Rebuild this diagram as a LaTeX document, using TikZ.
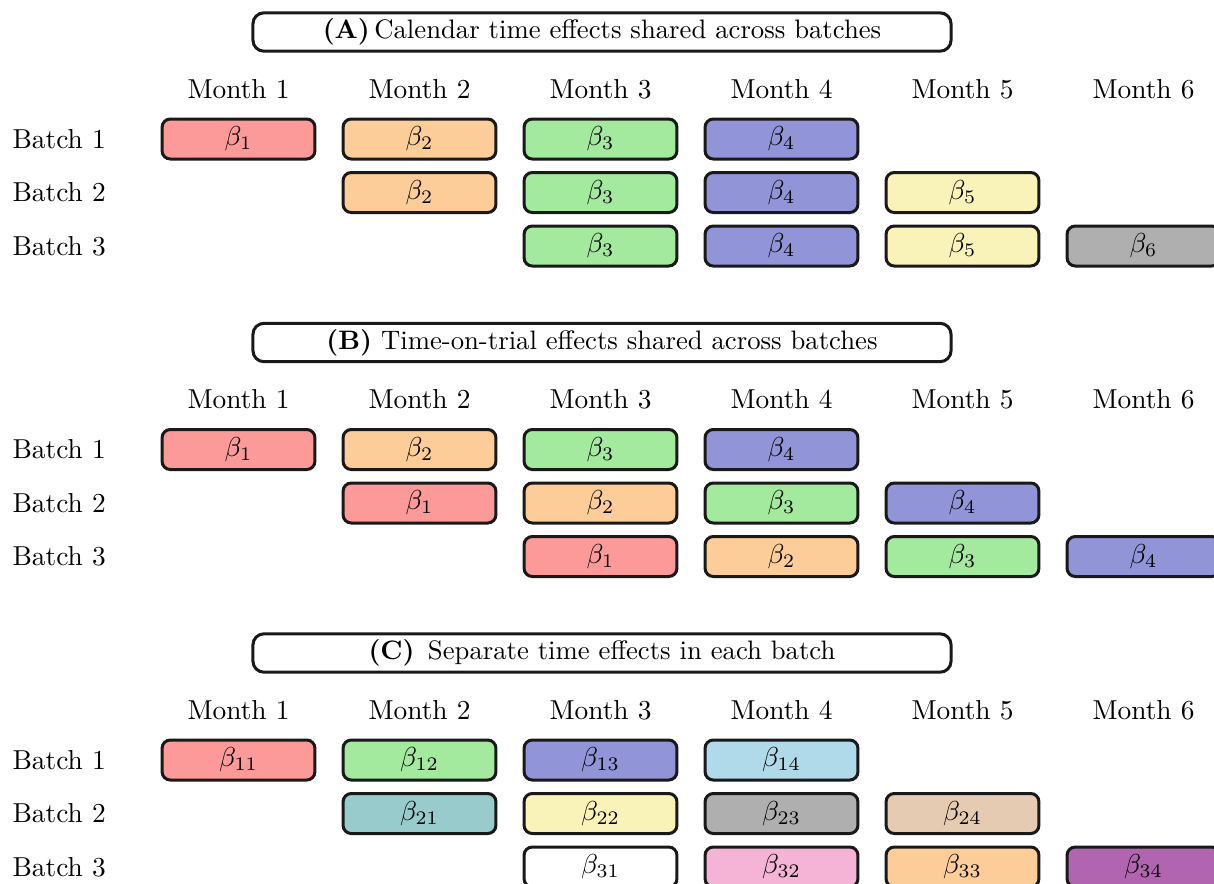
\documentclass[tikz,border=0pt]{standalone}
\definecolor{cR}{RGB}{252,153,153}
\definecolor{cO}{RGB}{252,205,153}
\definecolor{cG}{RGB}{163,233,158}
\definecolor{cB}{RGB}{145,148,214}
\definecolor{cY}{RGB}{250,243,185}
\definecolor{cK}{RGB}{175,175,175}
\definecolor{cT}{RGB}{152,204,204}
\definecolor{cL}{RGB}{176,218,234}
\definecolor{cN}{RGB}{229,203,178}
\definecolor{cP}{RGB}{245,180,213}
\definecolor{cV}{RGB}{177,101,177}
\definecolor{cW}{RGB}{255,255,255}
\begin{document}
\begin{tikzpicture}[x=0.365pt,y=-0.365pt,
  betabox/.style={draw=black!90, line width=1.1pt, rounded corners=3pt,
    minimum width=55.8pt, minimum height=14.6pt, inner sep=0pt},
  titlebox/.style={draw=black!90, line width=1.1pt, rounded corners=4pt,
    minimum width=254.8pt, minimum height=14pt, inner sep=0pt,
    font=\fontsize{9.75}{11}\selectfont},
  lab/.style={inner sep=0pt}]
\useasboundingbox (0,0) rectangle (1214,883);
\clip (0,0) rectangle (1214,883);
\foreach \s/\oy/\ttl in {
  A/0/{\textbf{(A)}\,Calendar time effects shared across batches},
  B/310.5/{\textbf{(B)} Time-on-trial effects shared across batches},
  C/621/{\textbf{(C)}\enspace Separate time effects in each batch}} {
  \node[titlebox] (\s-title) at (602, 32+\oy) {\ttl};
  \foreach \m in {1,...,6}
    \node[lab] (\s-m\m) at ({238.5+181*(\m-1)}, 89+\oy) {Month \m};
  \foreach \b in {1,2,3}
    \node[lab, anchor=west] (\s-b\b) at (12, {139+53.5*(\b-1)+\oy}) {Batch \b};
}
% Section A
\foreach \b/\c/\col/\k in {1/1/cR/1, 1/2/cO/2, 1/3/cG/3, 1/4/cB/4,
  2/2/cO/2, 2/3/cG/3, 2/4/cB/4, 2/5/cY/5,
  3/3/cG/3, 3/4/cB/4, 3/5/cY/5, 3/6/cK/6}
  \node[betabox, fill=\col] (A-\b-\c) at ({238.5+181*(\c-1)}, {139+53.5*(\b-1)}) {$\beta_{\k}$};
% Section B
\foreach \b/\c/\col/\k in {1/1/cR/1, 1/2/cO/2, 1/3/cG/3, 1/4/cB/4,
  2/2/cR/1, 2/3/cO/2, 2/4/cG/3, 2/5/cB/4,
  3/3/cR/1, 3/4/cO/2, 3/5/cG/3, 3/6/cB/4}
  \node[betabox, fill=\col] (B-\b-\c) at ({238.5+181*(\c-1)}, {139+53.5*(\b-1)+310.5}) {$\beta_{\k}$};
% Section C
\foreach \b/\c/\col/\k in {1/1/cR/11, 1/2/cG/12, 1/3/cB/13, 1/4/cL/14,
  2/2/cT/21, 2/3/cY/22, 2/4/cK/23, 2/5/cN/24,
  3/3/cW/31, 3/4/cP/32, 3/5/cO/33, 3/6/cV/34}
  \node[betabox, fill=\col] (C-\b-\c) at ({238.5+181*(\c-1)}, {139+53.5*(\b-1)+621}) {$\beta_{\k}$};
\end{tikzpicture}
\end{document}
